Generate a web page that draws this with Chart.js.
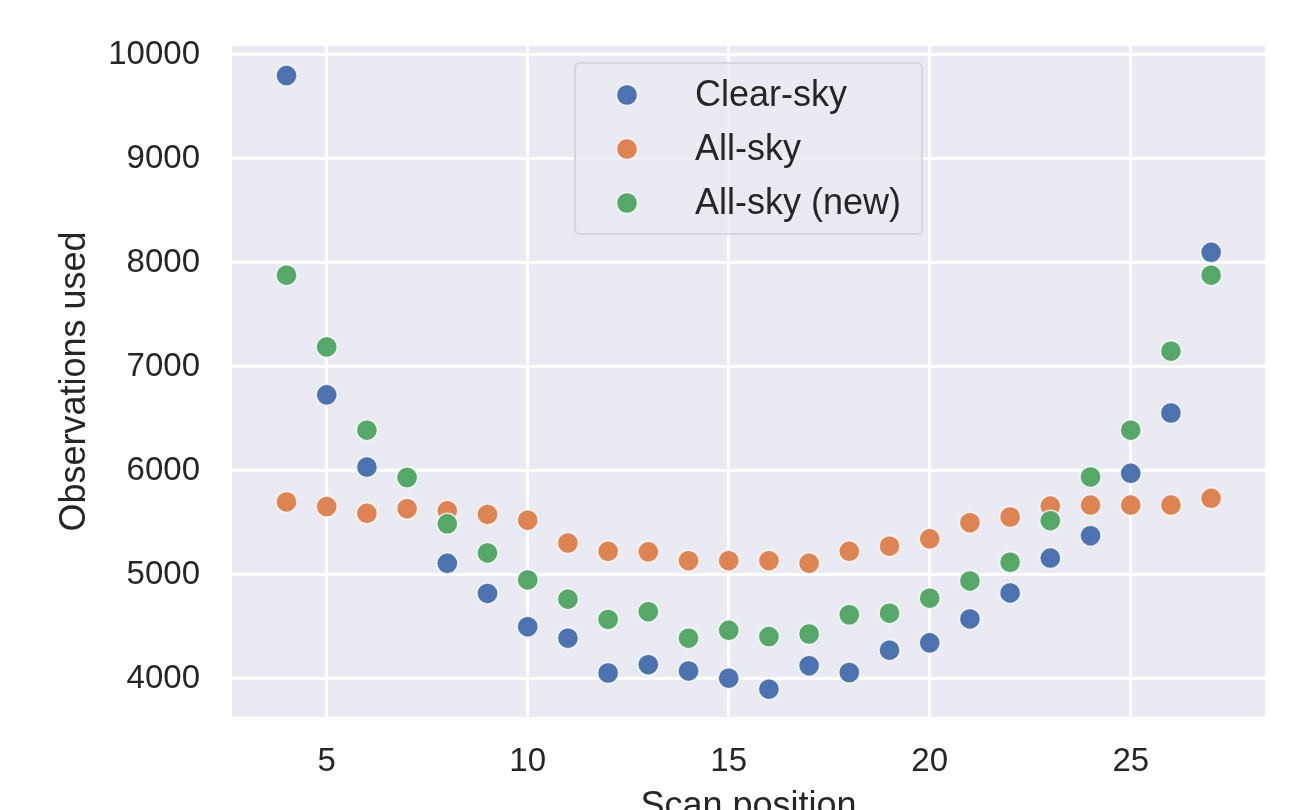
<!DOCTYPE html>
<html>
<head>
<meta charset="utf-8">
<script src="https://cdn.jsdelivr.net/npm/chart.js@4"></script>
<style>
  html, body { margin: 0; padding: 0; overflow: hidden; background: #fff; }
  #wrap { width: 1306px; height: 850px; }
</style>
</head>
<body>
<div id="wrap"><canvas id="chart" width="1306" height="850"></canvas></div>
<script>
const scanPositions = [4, 5, 6, 7, 8, 9, 10, 11, 12, 13, 14, 15, 16, 17, 18, 19, 20, 21, 22, 23, 24, 25, 26, 27];
const clearSky = [9800, 6730, 6035, 5640, 5110, 4820, 4500, 4390, 4055, 4135, 4075, 4005, 3900, 4125, 4060, 4275, 4345, 4575, 4825, 5160, 5375, 5975, 6555, 8100];
const allSky = [5700, 5655, 5590, 5635, 5615, 5580, 5525, 5305, 5225, 5220, 5135, 5135, 5135, 5110, 5225, 5275, 5345, 5500, 5555, 5660, 5670, 5670, 5670, 5735];
const allSkyNew = [7880, 7190, 6390, 5935, 5490, 5210, 4950, 4765, 4570, 4645, 4390, 4465, 4405, 4430, 4615, 4630, 4775, 4940, 5120, 5520, 5940, 6390, 7150, 7880];
const seriesNames = ['Clear-sky', 'All-sky', 'All-sky (new)'];
const xTicks = [5, 10, 15, 20, 25];
const yTicks = [4000, 5000, 6000, 7000, 8000, 9000, 10000];

const colors = ['#4C72B0', '#DD8452', '#55A868'];
const textColor = '#262626';
const fontFamily = '"Liberation Sans", Arial, sans-serif';

const toPoints = (ys) => ys.map((y, i) => ({ x: scanPositions[i], y }));

// plot background (seaborn darkgrid)
const bgPlugin = {
  id: 'bg',
  beforeDraw(chart) {
    const { ctx, chartArea: a } = chart;
    ctx.save();
    ctx.fillStyle = '#EAEAF2';
    ctx.fillRect(a.left, a.top, a.right - a.left, a.bottom - a.top);
    ctx.restore();
  },
};

// legend box inside the axes, like matplotlib's
const boxLegend = {
  id: 'boxLegend',
  afterDatasetsDraw(chart) {
    const { ctx } = chart;
    ctx.save();
    ctx.beginPath();
    ctx.roundRect(575, 63, 347, 171, 5);
    ctx.fillStyle = 'rgba(234,234,242,0.8)';
    ctx.fill();
    ctx.lineWidth = 2;
    ctx.strokeStyle = '#D6D6DD';
    ctx.stroke();
    ctx.font = '36px ' + fontFamily;
    ctx.textBaseline = 'alphabetic';
    chart.data.datasets.forEach((ds, i) => {
      const cy = 95 + i * 54;
      ctx.beginPath();
      ctx.arc(627, cy, 10.5, 0, Math.PI * 2);
      ctx.fillStyle = ds.backgroundColor;
      ctx.fill();
      ctx.lineWidth = 1.5;
      ctx.strokeStyle = 'rgba(255,255,255,0.75)';
      ctx.stroke();
      ctx.fillStyle = textColor;
      ctx.fillText(ds.label, 695, cy + 11);
    });
    ctx.restore();
  },
};

const makeSet = (label, ys, color, order) => ({
  label,
  data: toPoints(ys),
  backgroundColor: color,
  borderColor: 'rgba(255,255,255,0.75)',
  borderWidth: 1.5,
  pointRadius: 10.5,
  pointHoverRadius: 10.5,
  order,
});

new Chart(document.getElementById('chart'), {
  type: 'scatter',
  data: {
    datasets: [
      makeSet(seriesNames[0], clearSky, colors[0], 3),
      makeSet(seriesNames[1], allSky, colors[1], 2),
      makeSet(seriesNames[2], allSkyNew, colors[2], 1),
    ],
  },
  options: {
    responsive: false,
    animation: false,
    devicePixelRatio: 1,
    layout: { padding: { top: 46, right: 41, left: 0, bottom: 0 } },
    plugins: {
      legend: { display: false },
      tooltip: { enabled: false },
    },
    scales: {
      x: {
        type: 'linear',
        min: 2.644,
        max: 28.34,
        afterFit: (s) => {
          s.height = 133;
          s.paddingLeft = 0;
          s.paddingRight = 0;
        },
        afterBuildTicks: (s) => { s.ticks = xTicks.map((v) => ({ value: v })); },
        grid: { color: '#ffffff', lineWidth: 3, drawTicks: false },
        border: { display: false },
        ticks: {
          color: textColor,
          font: { family: fontFamily, size: 33 },
          padding: 25,
          callback: (v) => String(v),
        },
        title: {
          display: true,
          text: 'Scan position',
          color: textColor,
          font: { family: fontFamily, size: 36 },
          padding: { top: 0, bottom: 21 },
        },
      },
      y: {
        type: 'linear',
        min: 3632,
        max: 10084,
        afterFit: (s) => {
          s.width = 232;
          s.paddingTop = 0;
          s.paddingBottom = 0;
        },
        afterBuildTicks: (s) => { s.ticks = yTicks.map((v) => ({ value: v })); },
        grid: { color: '#ffffff', lineWidth: 3, drawTicks: false },
        border: { display: false },
        ticks: {
          color: textColor,
          font: { family: fontFamily, size: 33 },
          padding: 32,
          callback: (v) => String(v),
        },
        title: {
          display: true,
          text: 'Observations used',
          color: textColor,
          font: { family: fontFamily, size: 36 },
          padding: { top: 53, bottom: 0 },
        },
      },
    },
  },
  plugins: [bgPlugin, boxLegend],
});
</script>
</body>
</html>
